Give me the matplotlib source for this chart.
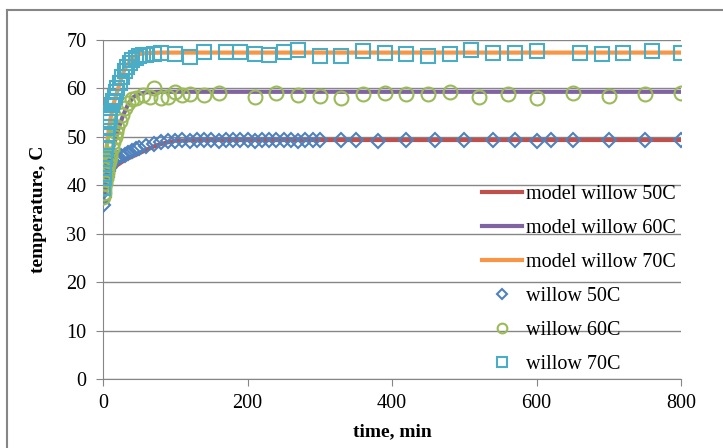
import matplotlib
matplotlib.use('Agg')
import matplotlib.pyplot as plt
from matplotlib.lines import Line2D

plt.rcParams['font.family'] = ['Liberation Serif', 'DejaVu Serif']

# measured data, willow 50C
w50_t = [0, 1, 2, 3, 4, 5, 6, 7, 8, 9, 10, 12, 14, 16, 18, 20, 25, 30, 35, 40, 45, 50,
         60, 70, 80, 90, 100, 110, 120, 130, 140, 150, 160, 170, 180, 190, 200, 210, 220,
         230, 240, 250, 260, 270, 280, 290, 300,
         330, 350, 380, 420, 460, 500, 540, 570, 600, 620, 650, 700, 750, 800]
w50_T = [36.0, 37.5, 38.8, 40.0, 41.0, 41.8, 42.5, 43.0, 43.5, 43.9, 44.2, 44.6, 44.9, 45.2, 45.5, 45.7, 46.0, 46.3, 46.7, 47.0, 47.4, 47.7,
         48.2, 48.6, 48.9, 49.1, 49.2, 49.3, 49.2, 49.3, 49.4, 49.3, 49.2, 49.3, 49.3, 49.4, 49.3, 49.2, 49.3,
         49.3, 49.4, 49.3, 49.3, 49.2, 49.3, 49.3, 49.3,
         49.4, 49.3, 49.2, 49.4, 49.3, 49.3, 49.3, 49.4, 49.2, 49.3, 49.3, 49.4, 49.3, 49.3]

# willow 60C
w60_t = [0, 1, 2, 3, 4, 5, 6, 7, 8, 9, 10, 12, 14, 16, 18, 20, 23, 26, 30, 35, 40, 45,
         55, 65, 70, 80, 90, 100, 110, 120, 140, 160, 210, 240, 270, 300, 330, 360, 390,
         420, 450, 480, 520, 560, 600, 650, 700, 750, 800]
w60_T = [37.5, 38.5, 39.5, 40.5, 41.5, 42.5, 43.5, 44.3, 45.0, 45.8, 46.5, 47.8, 49.0, 50.0, 51.0, 52.0, 53.2, 54.5, 56.0, 57.0, 57.8, 58.0,
         58.7, 58.2, 60.1, 58.0, 58.3, 59.3, 58.7, 58.8, 58.7, 59.0, 58.2, 59.0, 58.7, 58.5, 58.1, 58.8, 59.1,
         58.8, 58.8, 59.2, 58.3, 58.8, 58.1, 59.0, 58.5, 58.8, 59.0]

# willow 70C
w70_t = [0, 1, 2, 3, 4, 5, 6, 7, 8, 9, 10, 12, 14, 16, 18, 20, 23, 26, 30, 33, 37, 40,
         45, 50, 55, 60, 70, 80, 100, 120, 140, 170, 190, 210, 230, 250, 270, 300, 330,
         360, 390, 420, 450, 480, 510, 540, 570, 600, 660, 690, 720, 760, 800]
w70_T = [39.5, 41.5, 43.5, 45.5, 47.5, 49.0, 50.5, 52.0, 53.0, 54.0, 55.0, 56.5, 57.5, 58.3, 59.2, 60.0, 61.2, 62.3, 63.5, 64.5, 65.3, 65.8,
         66.3, 66.7, 66.9, 67.0, 67.2, 67.3, 67.2, 66.5, 67.6, 67.6, 67.6, 67.2, 67.0, 67.6, 67.9, 66.7, 66.7,
         67.7, 67.4, 67.2, 66.7, 67.2, 67.9, 67.4, 67.4, 67.7, 67.4, 67.2, 67.4, 67.7, 67.4]

# model curves
m50_t = [0, 2, 5, 10, 15, 20, 30, 40, 50, 60, 70, 80, 90, 100, 120, 150, 200, 800]
m50_T = [37.0, 38.5, 40.3, 42.2, 43.4, 44.2, 45.2, 45.9, 46.6, 47.3, 48.0, 48.5, 48.9, 49.2, 49.3, 49.35, 49.35, 49.35]
m60_t = [0, 3, 6, 10, 14, 17, 22, 28, 35, 42, 50, 60, 80, 100, 800]
m60_T = [38.0, 40.5, 43.0, 45.5, 47.8, 49.4, 52.0, 54.5, 56.8, 58.2, 58.9, 59.2, 59.3, 59.3, 59.3]
m70_t = [0, 2, 4, 6, 8, 10, 15, 20, 25, 30, 40, 50, 60, 80, 800]
m70_T = [40.0, 43.5, 46.5, 49.0, 51.5, 53.5, 57.0, 59.5, 62.0, 64.0, 66.3, 67.1, 67.3, 67.4, 67.4]

gray = '#868686'

fig = plt.figure(figsize=(7.23, 4.48), dpi=100)
ax = fig.add_axes([103/723, 1-379/448, (681-103)/723, (379-40)/448])

ax.plot(m50_t, m50_T, color='#C0504D', lw=3, label='model willow 50C', zorder=2)
ax.plot(m60_t, m60_T, color='#8064A2', lw=3, label='model willow 60C', zorder=2)
ax.plot(m70_t, m70_T, color='#F79646', lw=3, label='model willow 70C', zorder=2)
ax.plot(w50_t, w50_T, 'D', ms=7.5, mfc='none', mec='#4F81BD', mew=1.5, label='willow 50C', zorder=3)
ax.plot(w60_t, w60_T, 'o', ms=10, mfc='none', mec='#9BBB59', mew=1.5, label='willow 60C', zorder=3)
ax.plot(w70_t, w70_T, 's', ms=10, mfc='none', mec='#4BACC6', mew=1.5, label='willow 70C', zorder=3)

ax.set_xlim(0, 800)
ax.set_ylim(0, 70)
ax.set_xticks([0, 200, 400, 600, 800])
ax.set_yticks(range(0, 71, 10))
ax.yaxis.grid(True, color=gray, lw=1)
ax.set_axisbelow(True)
for s in ['top', 'right']:
    ax.spines[s].set_visible(False)
for s in ['left', 'bottom']:
    ax.spines[s].set_color(gray)
ax.tick_params(axis='both', colors=gray, labelcolor='black', labelsize=14.5, length=5, direction='out')
ax.tick_params(axis='y', pad=7)
ax.tick_params(axis='x', pad=6)

ax.set_xlabel('time, min', fontsize=14, fontweight='bold', labelpad=7)
ax.set_ylabel('temperature, C', fontsize=14, fontweight='bold', labelpad=14)

leg = ax.legend(loc='upper left', bbox_to_anchor=(482/723, 1-185/448), bbox_transform=fig.transFigure,
                frameon=False, fontsize=14.5, handlelength=2.0, handletextpad=0.2, labelspacing=0.74,
                borderpad=0, borderaxespad=0, markerscale=0.7)

# outer chart border (only top and left are inside the picture)
fig.add_artist(Line2D([7/723, 1], [1-10/448, 1-10/448], transform=fig.transFigure, color=gray, lw=1.5))
fig.add_artist(Line2D([7/723, 7/723], [0, 1-10/448], transform=fig.transFigure, color=gray, lw=1.5))

fig.savefig('out.png', dpi=100)
